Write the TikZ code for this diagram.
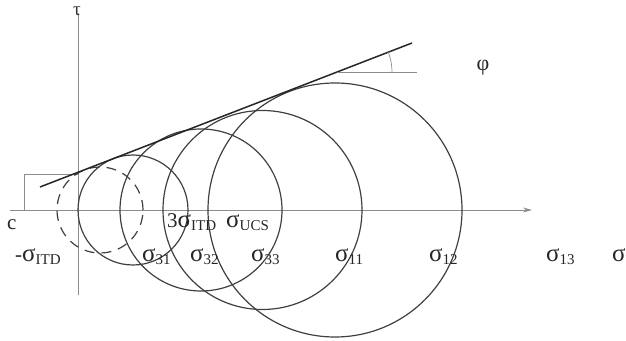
\documentclass[tikz,border=0pt]{standalone}
\usepackage{fontspec}
\setmainfont{Liberation Serif}
\usetikzlibrary{arrows.meta}
\newcommand\lsub[1]{\raisebox{-0.3ex}{\fontsize{15}{15}\selectfont #1}}
\newcommand\sgm{{\fontsize{25}{25}\selectfont σ}}
\begin{document}
\begin{tikzpicture}[x=1pt,y=1pt,
  axisline/.style={draw=black!45,line width=0.8pt},
  thinline/.style={draw=black!45,line width=0.7pt},
  mohr/.style={draw=black!75,line width=1.2pt},
  envelope/.style={draw=black!85,line width=1.5pt},
  lbl/.style={inner sep=0pt,anchor=base west,font=\fontsize{21}{24}\selectfont,text=black!85}]
\useasboundingbox (0,0) rectangle (626,340);
% axes
\coordinate (xa) at (10,130);
\coordinate (xb) at (532,130);
\coordinate (ya) at (78,45);
\coordinate (yb) at (78,327);
\draw[axisline,-{Stealth[length=9pt,width=5pt]}] (xa) -- (xb);
\draw[axisline] (ya) -- (yb);
% cohesion rectangle
\coordinate (r1) at (24,130);
\coordinate (r2) at (24,166);
\coordinate (r3) at (78,166);
\draw[thinline] (r1) -- (r2) -- (r3);
% Mohr circles
\draw[mohr,dash pattern=on 10pt off 7pt] (100,130) circle (43);
\draw[mohr] (133,130) circle (55);
\draw[mohr] (201,130) circle (81);
\draw[mohr] (262.5,130) circle (99.5);
\draw[mohr] (335,130) circle (127);
% envelope
\coordinate (ea) at (40,153);
\coordinate (eb) at (412,297);
\draw[envelope] (ea) -- (eb);
% angle marker
\coordinate (pa) at (337,268);
\coordinate (pb) at (417,268);
\draw[thinline] (pa) -- (pb);
\draw[thinline] (pa) ++(55,0) arc[start angle=0,end angle=21.2,radius=55];
% labels
\node[inner sep=0pt,font=\fontsize{19}{20}\selectfont,text=black!80] (tau) at (77,329) {τ};
\node[inner sep=0pt,font=\fontsize{22}{24}\selectfont,text=black!85] (phi) at (483,272) {φ};
\node[lbl] (c) at (7,110) {c};
\node[lbl] (mitd) at (15,78) {-\sgm\lsub{ITD}};
\node[lbl] (titd) at (167,112) {3\sgm\lsub{ITD}};
\node[lbl] (ucs) at (226,112) {\sgm\lsub{UCS}};
\node[lbl] (s31) at (142,78) {\sgm\lsub{31}};
\node[lbl] (s32) at (190,78) {\sgm\lsub{32}};
\node[lbl] (s33) at (251,78) {\sgm\lsub{33}};
\node[lbl] (s11) at (335,78) {\sgm\lsub{11}};
\node[lbl] (s12) at (429,78) {\sgm\lsub{12}};
\node[lbl] (s13) at (546,78) {\sgm\lsub{13}};
\node[lbl] (s) at (612,78) {\sgm};
\end{tikzpicture}
\end{document}
